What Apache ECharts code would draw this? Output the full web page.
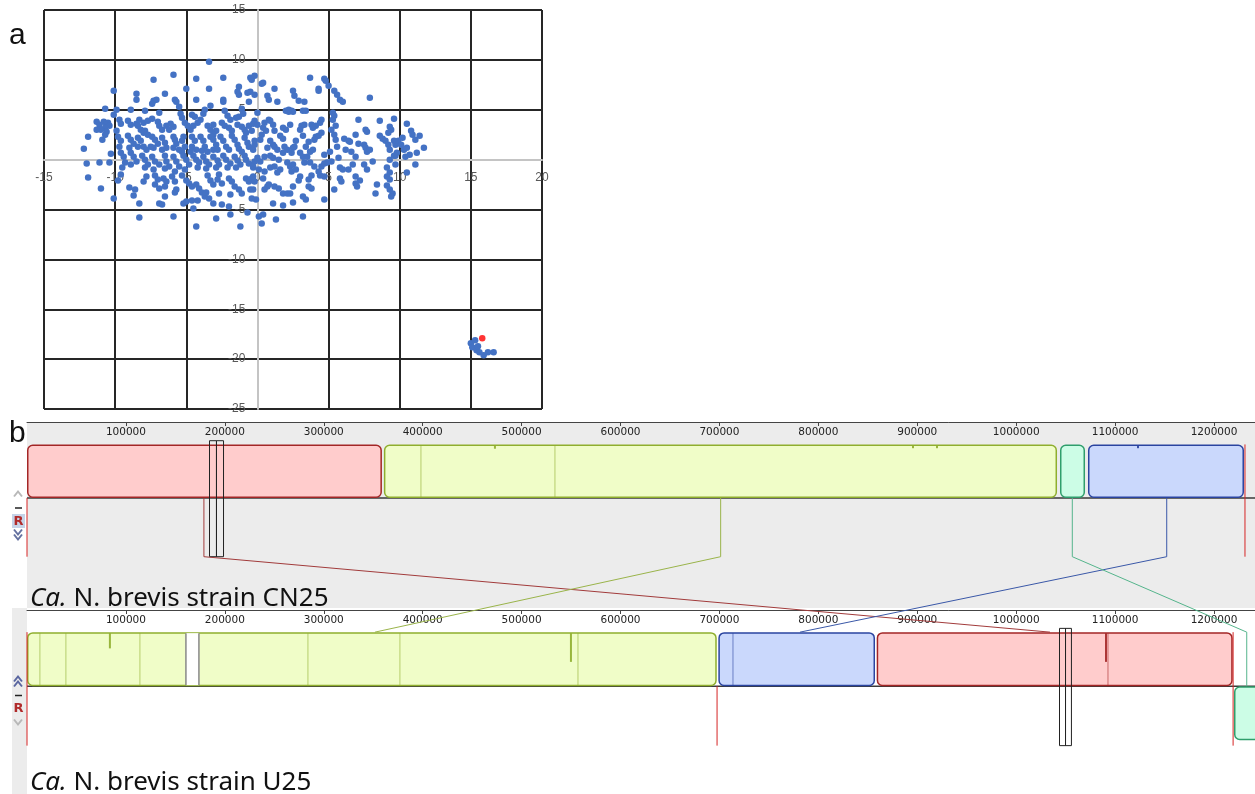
<!DOCTYPE html>
<html>
<head>
<meta charset="utf-8">
<script src="https://cdn.jsdelivr.net/npm/echarts@6/dist/echarts.min.js"></script>
<style>
html, body { margin: 0; padding: 0; background: #fff; }
#main { width: 1255px; height: 794px; }
</style>
</head>
<body>
<div id="main"></div>
<script>
// ---------- panel a : embedding scatter ----------
var tsnePoints = [
[-3.4,9.8],[-5.9,8.5],[-7.3,8.0],[-2.4,8.2],[-4.3,8.1],[-0.5,8.2],[-0.4,8.0],[-1.3,7.3],[-1.4,6.8],[-0.5,6.8],[-0.7,6.7],[-10.1,6.9],[-8.5,6.6],[-8.5,6.0],[-6.5,6.6],[-5.0,7.1],[-3.4,7.1],[-4.3,6.0],[-5.8,6.0],[-5.7,5.8],[-7.3,5.9],[-7.4,5.6],[-7.1,6.0],[-2.4,6.0],[-2.4,5.8],[-3.3,5.4],[-1.3,6.5],[-0.6,5.8],
[-10.7,5.1],[-9.9,5.0],[-10.1,4.5],[-8.9,5.0],[-7.9,4.9],[-6.9,4.7],[-5.5,5.3],[-5.4,4.6],[-5.3,4.2],[-4.6,4.5],[-4.4,4.3],[-3.8,4.6],[-3.7,5.0],[-2.3,4.9],[-2.1,4.4],[-1.3,4.3],[-1.1,5.1],[-1.0,4.6],
[-11.3,3.8],[-11.1,3.5],[-10.8,3.8],[-10.6,3.6],[-10.5,3.7],[-10.4,3.4],[-10.7,3.2],[-11.0,3.0],[-11.3,3.0],[-11.9,2.3],[-10.6,2.8],[-10.7,2.5],[-10.9,2.0],
[-9.7,4.0],[-9.6,3.6],[-9.9,2.9],[-9.1,3.9],[-8.9,3.5],[-8.5,3.6],[-8.4,3.4],[-8.3,4.0],[-8.0,3.7],[-7.7,3.9],[-7.4,4.1],[-8.2,3.0],[-7.9,2.9],[-8.0,2.7],[-7.7,2.5],
[-7.0,3.8],[-6.9,3.4],[-6.7,3.0],[-6.4,3.4],[-6.2,3.0],[-5.9,3.3],[-6.1,3.6],[-5.1,3.7],[-4.9,3.4],[-4.7,3.0],[-4.5,3.4],[-4.2,3.7],[-4.0,4.0],
[-3.5,3.4],[-3.3,3.0],[-3.1,3.5],[-2.9,2.9],[-3.1,2.5],[-2.5,3.7],[-2.3,3.4],[-2.0,3.2],[-1.8,2.9],[-1.4,3.5],[-1.1,3.3],[-0.9,3.0],[-0.6,3.4],[-0.3,3.6],[-1.9,4.0],[-1.5,4.2],
[-9.8,2.3],[-9.6,1.9],[-9.7,1.3],[-9.1,2.4],[-8.9,2.0],[-8.7,1.6],[-9.0,1.2],[-8.4,2.2],[-8.2,1.9],[-8.4,1.3],[-8.0,1.3],[-7.8,1.0],
[-7.4,2.3],[-7.2,2.0],[-7.0,1.6],[-7.3,1.2],[-7.5,1.3],[-6.7,2.2],[-6.5,1.7],[-6.4,1.2],[-6.7,1.0],[-5.9,2.3],[-5.8,2.0],[-5.7,1.6],[-5.9,1.2],[-5.5,1.0],
[-5.2,2.3],[-5.3,1.9],[-5.1,1.3],[-5.3,0.8],[-4.6,2.3],[-4.4,1.9],[-4.6,1.3],[-4.3,1.0],[-4.7,0.8],[-4.0,2.3],[-3.8,1.9],[-3.7,1.3],[-3.9,0.9],[-3.5,0.8],
[-3.3,2.3],[-3.1,2.0],[-2.9,1.5],[-3.1,1.0],[-2.8,1.0],[-2.6,2.3],[-2.4,1.9],[-2.2,1.3],[-2.0,1.0],[-1.8,2.4],[-1.6,2.0],[-1.4,1.5],[-1.3,1.1],[-1.1,0.8],
[-0.9,2.2],[-0.7,1.7],[-0.6,1.3],[-0.3,1.0],[-0.2,1.5],[-0.8,2.7],
[-12.2,1.1],[-12.0,-0.4],[-11.1,-0.3],[-11.9,-1.8],[-10.3,0.6],[-10.4,-0.3],
[-9.6,0.7],[-9.4,0.3],[-9.3,-0.3],[-9.5,-0.8],[-8.9,0.7],[-8.7,0.3],[-8.5,-0.2],[-8.9,-0.5],[-8.1,0.4],[-7.9,0.0],[-7.7,-0.5],[-7.9,-0.8],
[-7.4,0.3],[-7.2,-0.2],[-6.9,-0.5],[-7.3,-1.0],[-6.5,0.4],[-6.4,-0.2],[-6.2,-0.7],[-6.5,-0.9],[-5.9,0.3],[-5.7,-0.2],[-5.5,-0.7],[-5.8,-1.2],
[-5.2,0.4],[-5.0,0.0],[-4.8,-0.5],[-5.1,-1.0],[-4.5,0.4],[-4.3,0.0],[-4.1,-0.3],[-4.2,-0.8],[-3.8,0.3],[-3.6,-0.2],[-3.4,-0.5],[-3.6,-0.9],
[-3.1,0.3],[-2.8,-0.1],[-2.7,-0.5],[-2.9,-0.8],[-2.4,0.4],[-2.2,0.0],[-1.9,-0.4],[-2.1,-0.8],[-1.6,0.3],[-1.4,-0.1],[-1.2,-0.5],[-1.5,-0.8],
[-0.9,0.4],[-0.8,0.0],[-0.6,-0.4],[-0.3,-0.8],[-0.2,-0.2],
[-9.6,-1.5],[-9.8,-2.1],[-9.0,-2.8],[-8.6,-3.0],[-8.7,-3.6],[-10.1,-3.9],[-11.0,-2.9],[-8.0,-2.2],[-7.8,-1.7],
[-7.2,-1.6],[-7.0,-2.0],[-7.2,-2.5],[-6.9,-2.9],[-6.6,-1.9],[-6.4,-2.2],[-6.5,-2.7],[-6.5,-3.7],[-6.0,-1.7],[-5.8,-2.2],[-5.7,-3.0],[-5.8,-3.3],
[-5.3,-1.6],[-5.0,-2.1],[-4.8,-2.4],[-4.6,-2.7],[-4.3,-2.5],[-4.1,-2.9],[-3.9,-3.3],[-3.7,-3.7],[-3.5,-1.6],[-3.3,-2.1],[-3.1,-2.5],
[-2.7,-1.5],[-2.8,-2.0],[-2.5,-2.4],[-2.0,-1.9],[-1.8,-2.2],[-1.6,-2.7],[-1.3,-3.0],[-1.1,-3.4],[-0.8,-1.9],[-0.6,-2.2],[-0.3,-1.7],[-0.5,-3.0],
[-2.7,-3.4],[-1.9,-3.5],[-3.6,-3.3],[-3.4,-3.9],
[-5.2,-4.4],[-5.0,-4.2],[-4.6,-4.1],[-4.2,-4.1],[-4.5,-4.9],[-6.9,-4.4],[-6.7,-4.5],[-8.3,-4.4],[-8.3,-5.8],[-5.9,-5.7],[-4.3,-6.7],[-2.9,-5.9],[-3.1,-4.4],[-2.5,-4.5],[-2.0,-4.7],[-1.9,-5.5],[-1.2,-6.7],[-0.7,-5.3],
[3.7,8.2],[4.7,8.1],[4.8,7.9],[5.0,7.4],[5.4,6.9],[5.6,6.5],[5.8,6.0],[6.0,5.8],[4.3,7.1],[4.3,6.9],[7.9,6.2],[-0.2,8.4],[0.4,7.7],[0.3,7.6],[1.2,7.1],[2.5,6.9],[2.6,6.4],[2.9,5.9],[3.3,5.8],[0.7,6.4],[0.8,6.0],[1.4,5.8],[-0.2,6.5],
[2.0,4.9],[2.2,4.8],[2.4,4.9],[2.5,4.8],[2.2,5.0],[3.2,4.9],[3.4,4.9],[0.0,4.7],[5.3,4.7],[5.4,4.4],[5.3,4.0],[5.2,3.0],[5.5,3.4],[5.4,2.5],[4.5,4.0],[4.4,3.7],[4.1,3.4],
[7.1,4.0],[8.6,3.9],[9.6,4.1],[10.5,3.6],[7.6,3.0],[7.7,2.8],[9.3,3.3],[9.4,3.0],[9.2,2.7],[10.8,2.9],[10.9,2.5],[11.4,2.4],[11.1,2.0],[11.7,1.2],[11.2,0.7],[11.1,-0.5],[10.5,-1.3],
[8.6,2.4],[8.8,2.1],[9.0,1.9],[9.2,1.5],[9.3,1.0],[9.6,1.9],[9.7,1.5],[9.9,1.9],[10.2,2.2],[10.1,1.5],[10.3,1.0],[10.5,1.2],[10.7,0.5],[10.4,0.3],
[9.8,0.7],[9.7,0.4],[9.3,0.0],[9.1,-0.8],[9.3,-1.3],[9.1,-1.7],[9.3,-2.0],[9.1,-2.6],[9.3,-3.0],[9.5,-3.4],[9.4,-3.7],[8.4,-2.5],[8.3,-3.4],[9.6,0.4],[9.7,-0.5],
[7.5,1.5],[7.6,1.2],[7.7,0.8],[7.9,1.0],[6.9,2.5],[7.1,1.6],[6.1,2.1],[6.4,1.9],[6.5,1.8],[6.2,1.0],[6.6,0.8],[5.5,2.0],[5.6,1.3],
[6.9,0.3],[6.7,-0.5],[6.4,-1.0],[6.9,-1.7],[7.2,-2.1],[6.9,-2.4],[7.0,-2.7],[7.5,-0.5],[8.1,-0.2],[7.7,-1.0],
[5.7,0.2],[5.8,-0.8],[6.0,-1.0],[5.8,-1.9],[5.9,-2.2],[5.4,-3.0],[5.1,0.8],[4.7,0.5],[5.2,-0.2],[4.9,-0.3],[4.7,-1.7],[4.4,-1.6],[4.7,-4.0],
[4.1,2.3],[4.3,2.4],[4.5,2.7],[4.0,2.0],[3.6,1.8],[3.4,1.3],[3.9,1.0],[3.7,0.8],[3.1,3.4],[3.0,3.0],[3.2,2.4],[2.7,1.9],[2.6,1.3],[2.5,1.2],[3.3,3.5],[3.8,3.5],[3.9,3.2],
[1.8,3.2],[2.0,3.0],[2.3,3.5],[1.6,2.4],[1.8,2.1],[1.2,2.9],[0.8,4.0],[0.9,3.9],[1.1,3.5],[0.5,3.7],[0.4,3.2],[0.6,2.9],[-0.2,3.9],[0.0,3.5],[-0.4,2.9],[0.3,2.5],[0.2,2.0],[-0.2,1.9],
[0.9,1.9],[1.1,1.5],[1.2,1.3],[0.7,1.2],[1.4,1.0],[1.9,1.3],[2.1,1.0],[1.8,0.7],[2.4,0.7],[3.0,0.7],[3.2,0.3],[3.5,0.3],[3.3,-0.3],[3.7,-0.3],[4.0,-0.7],[4.5,-0.7],[4.7,-0.4],[4.3,-1.2],
[0.0,0.2],[0.2,-0.2],[0.5,0.3],[0.9,0.4],[1.1,0.2],[1.5,0.0],[-0.3,-0.7],[0.1,-1.0],[0.5,-1.2],[0.9,-0.8],[1.2,-0.7],[1.6,-1.0],[1.4,-1.3],[2.1,-0.3],[2.3,-0.7],[2.5,-0.5],[2.4,-1.2],[2.7,-1.0],
[3.0,-1.7],[2.9,-2.1],[3.6,-2.0],[3.8,-1.6],[3.6,-2.7],[3.8,-2.9],[-0.4,-1.9],[-0.2,-2.2],[0.4,-1.9],[0.5,-3.0],[0.7,-2.7],[0.8,-2.5],[1.2,-2.7],[1.5,-2.9],[1.8,-3.4],[2.1,-3.4],[2.3,-3.4],[2.5,-2.7],
[-0.3,-3.0],[-0.4,-3.9],[-0.1,-4.0],[1.1,-4.4],[1.8,-4.6],[2.5,-4.3],[3.2,-3.7],[3.4,-4.0],[0.1,-5.7],[0.4,-5.5],[0.3,-6.4],[1.3,-6.0],[3.2,-5.7],
[15.0,-18.4],[15.3,-18.1],[15.1,-18.8],[15.4,-19.1],[15.5,-18.7],[15.6,-19.3],[15.9,-19.6],[16.2,-19.3],[16.6,-19.3]
];
var queryPoint = [[15.8, -17.9]];
var tsneTicksX = [-15, -10, -5, 0, 5, 10, 15, 20];
var tsneTicksY = [-25, -20, -15, -10, -5, 0, 5, 10, 15];

// ---------- panel b : genome alignment ----------
var genomeTickStep = 100000;
var genomeAxisMax = 1241440;
// [start, end, strand, lcb]
var cn25Blocks = [[0, 358800, 1, 0], [360800, 1041300, 1, 1], [1044300, 1069600, 1, 3], [1072600, 1230300, 1, 2]];
var u25Blocks = [[0, 697300, 1, 1], [698900, 857300, 1, 2], [859000, 1218900, 1, 0], [1220200, 1250000, -1, 3]];
// [position, depth (fraction of block height), lcb]
var cn25Profile = [[398250, 1, 1], [533720, 1, 1], [473060, 0.08, 1], [895670, 0.07, 1], [919940, 0.07, 1], [1123140, 0.07, 2]];
var u25Profile = [[13040, 1, 1], [39330, 1, 1], [83810, 0.3, 1], [114150, 1, 1], [284000, 1, 1], [377000, 1, 1],
  [549900, 0.55, 1], [557000, 1, 1], [713700, 1, 2], [1090800, 0.55, 0], [1092800, 1, 0]];
var u25Gaps = [[160660, 173800]];
// [position in CN25, position in U25, lcb, strand in U25]
var lcbLinks = [[178850, 1034200, 0, 1], [701250, 351740, 1, 1], [1152200, 781430, 2, 1], [1056740, 1233090, 3, -1]];
// [position, 0 = below strand line, 1 = whole track]
var cn25Ends = [[0, 0], [1231300, 1]];
var u25Ends = [[0, 1], [697600, 0], [1219300, 1]];
var cn25Cursor = [[184000, 191000], [191000, 198100]];
var u25Cursor = [[1043300, 1049400], [1049400, 1055400]];

var LCB_STYLE = [
  { fill: '#ffcccc', stroke: '#a32626', link: '#a23b3b' },
  { fill: '#f0fdc8', stroke: '#8fae2e', link: '#9ab44a' },
  { fill: '#cad8fc', stroke: '#2a44a0', link: '#3a58a8' },
  { fill: '#ccfde6', stroke: '#2f9e6c', link: '#55b58c' }
];
var LINK_DROP = -1.1;

var myChart = echarts.init(document.getElementById('main'));

function renderBlock(params, api) {
  var s = api.coord([api.value(0), 0]);
  var e = api.coord([api.value(1), 0]);
  var strand = api.value(2);
  var yTop = api.coord([0, strand > 0 ? 1 : 0])[1];
  var yBot = api.coord([0, strand > 0 ? 0 : -1])[1];
  var st = LCB_STYLE[api.value(3)];
  return {
    type: 'rect',
    shape: { x: s[0] + 0.75, y: yTop + 0.75, width: e[0] - s[0] - 1.5, height: yBot - yTop - 1.5, r: 5 },
    style: { fill: st.fill, stroke: st.stroke, lineWidth: 1.5 }
  };
}

function renderStrandLine(params, api) {
  var y = api.coord([0, 0])[1];
  var cs = params.coordSys;
  return {
    type: 'line',
    shape: { x1: cs.x, y1: y, x2: cs.x + cs.width, y2: y },
    style: { stroke: '#3a3a3a', lineWidth: 1.5 }
  };
}

function renderProfile(params, api) {
  var x = api.coord([api.value(0), 0])[0];
  var depth = api.value(1);
  var top = api.coord([0, 1])[1] + 1;
  var bot = api.coord([0, 1 - depth])[1];
  var st = LCB_STYLE[api.value(2)];
  return {
    type: 'line',
    shape: { x1: x, y1: top, x2: x, y2: bot },
    style: { stroke: st.stroke, lineWidth: depth < 1 ? 2 : 1, opacity: depth < 1 ? 0.9 : 0.6 }
  };
}

function renderGap(params, api) {
  var s = api.coord([api.value(0), 1]);
  var e = api.coord([api.value(1), 0]);
  return {
    type: 'group',
    children: [
      { type: 'rect', shape: { x: s[0], y: s[1] + 1, width: e[0] - s[0], height: e[1] - s[1] - 2 }, style: { fill: '#ffffff' } },
      { type: 'line', shape: { x1: s[0], y1: s[1] + 1, x2: s[0], y2: e[1] - 1 }, style: { stroke: '#888', lineWidth: 1.5 } },
      { type: 'line', shape: { x1: e[0], y1: s[1] + 1, x2: e[0], y2: e[1] - 1 }, style: { stroke: '#888', lineWidth: 1.5 } }
    ]
  };
}

function renderEnd(params, api) {
  var p = api.coord([api.value(0), api.value(1) ? 1 : 0]);
  var q = api.coord([api.value(0), LINK_DROP]);
  return {
    type: 'line',
    shape: { x1: p[0], y1: p[1], x2: q[0], y2: q[1] },
    style: { stroke: '#d62424', lineWidth: 1 }
  };
}

function renderCursor(params, api) {
  var a = api.coord([api.value(0), 1.07]);
  var b = api.coord([api.value(1), LINK_DROP]);
  return {
    type: 'rect',
    shape: { x: Math.round(a[0]) + 0.5, y: a[1], width: b[0] - a[0], height: b[1] - a[1] },
    style: { fill: null, stroke: '#222', lineWidth: 1 }
  };
}

function renderLink(params, api) {
  var from = api.value(0), to = api.value(1);
  var st = LCB_STYLE[api.value(2)];
  var p0 = api.coord([from, 0]);
  var p1 = api.coord([from, LINK_DROP]);
  var p2 = myChart.convertToPixel({ xAxisIndex: 2, yAxisIndex: 2 }, [to, 1]);
  var pts = [p0, p1, p2];
  if (api.value(3) < 0) {
    pts.push(myChart.convertToPixel({ xAxisIndex: 2, yAxisIndex: 2 }, [to, 0]));
  }
  return {
    type: 'polyline',
    shape: { points: pts },
    style: { stroke: st.link, lineWidth: 1, fill: null }
  };
}

function genomeAxis(gridIndex) {
  return {
    gridIndex: gridIndex, type: 'value', position: 'top',
    min: 0, max: genomeAxisMax, interval: genomeTickStep,
    axisLine: { onZero: false, lineStyle: { color: '#444', width: 1 } },
    axisTick: { inside: true, length: 4, lineStyle: { color: '#444' } },
    axisLabel: { inside: true, margin: 5, fontSize: 10.5, color: '#222', fontFamily: 'DejaVu Sans',
      showMinLabel: false, showMaxLabel: false, formatter: function (v) { return String(v); } },
    splitLine: { show: false }
  };
}

function trackY(gridIndex, lo, hi) {
  return { gridIndex: gridIndex, type: 'value', min: lo, max: hi, show: false };
}

var gridLine = '#262626';
var zeroLine = '#c4c4c4';
// panel a plot box, used to put both axes through the origin
var tsneBox = { left: 44, top: 10, width: 498, height: 399 };
var zeroOffsetX = -tsneBox.height * (0 - tsneTicksY[0]) / (tsneTicksY[tsneTicksY.length - 1] - tsneTicksY[0]);
var zeroOffsetY = -tsneBox.width * (0 - tsneTicksX[0]) / (tsneTicksX[tsneTicksX.length - 1] - tsneTicksX[0]);

// dir: -1 points up, 1 points down
function chevron(x, y, dir, color) {
  return { type: 'polyline', shape: { points: [[x - 4, y - 2.5 * dir], [x, y + 2.5 * dir], [x + 4, y - 2.5 * dir]] },
    style: { stroke: color, lineWidth: 2, fill: null } };
}

function trackTitle(y, name) {
  return { type: 'text', x: 30, y: y,
    style: { text: '{i|Ca.} N. brevis strain ' + name, fill: '#111', font: '26px "Noto Sans"', verticalAlign: 'middle',
      rich: { i: { fontStyle: 'italic', fontSize: 26, fontFamily: 'Noto Sans', fill: '#111' } } } };
}

var option = {
  animation: false,
  backgroundColor: '#ffffff',
  grid: [
    { left: tsneBox.left, top: tsneBox.top, width: tsneBox.width, height: tsneBox.height, show: false },
    { left: 27, top: 422, right: 0, height: 186, show: true, backgroundColor: '#ececec', borderWidth: 0 },
    { left: 27, top: 610, right: 0, height: 184, show: false }
  ],
  xAxis: [
    {
      gridIndex: 0, type: 'value', position: 'bottom', offset: zeroOffsetX,
      min: tsneTicksX[0], max: tsneTicksX[tsneTicksX.length - 1], interval: 5,
      axisLine: { onZero: false, lineStyle: { color: zeroLine, width: 2 } },
      axisTick: { show: false },
      axisLabel: { color: '#595959', fontSize: 12, fontFamily: 'Liberation Sans', margin: 12 },
      splitLine: { lineStyle: { width: 2, color: tsneTicksX.map(function (v) { return v === 0 ? zeroLine : gridLine; }) } }
    },
    genomeAxis(1),
    genomeAxis(2)
  ],
  yAxis: [
    {
      gridIndex: 0, type: 'value', position: 'left', offset: zeroOffsetY,
      min: tsneTicksY[0], max: tsneTicksY[tsneTicksY.length - 1], interval: 5,
      axisLine: { onZero: false, lineStyle: { color: zeroLine, width: 2 } },
      axisTick: { show: false },
      axisLabel: { color: '#595959', fontSize: 12, fontFamily: 'Liberation Sans', margin: 12 },
      splitLine: { lineStyle: { width: 2, color: tsneTicksY.map(function (v) { return v === 0 ? zeroLine : gridLine; }) } }
    },
    trackY(1, -2.06, 1.42),
    trackY(2, -1.995, 1.41)
  ],
  series: [
    { type: 'scatter', xAxisIndex: 0, yAxisIndex: 0, data: tsnePoints, symbolSize: 6.5,
      itemStyle: { color: '#4472c4', opacity: 1 } },
    { type: 'scatter', xAxisIndex: 0, yAxisIndex: 0, data: queryPoint, symbolSize: 6.5,
      itemStyle: { color: '#ff0000' } },

    { type: 'custom', xAxisIndex: 1, yAxisIndex: 1, data: [[0]], renderItem: renderStrandLine, silent: true },
    { type: 'custom', xAxisIndex: 1, yAxisIndex: 1, data: cn25Blocks, renderItem: renderBlock, silent: true },
    { type: 'custom', xAxisIndex: 1, yAxisIndex: 1, data: cn25Profile, renderItem: renderProfile, silent: true },
    { type: 'custom', xAxisIndex: 1, yAxisIndex: 1, data: cn25Ends, renderItem: renderEnd, silent: true },
    { type: 'custom', xAxisIndex: 1, yAxisIndex: 1, data: lcbLinks, renderItem: renderLink, silent: true, clip: false, z: 5 },
    { type: 'custom', xAxisIndex: 1, yAxisIndex: 1, data: cn25Cursor, renderItem: renderCursor, silent: true },

    { type: 'custom', xAxisIndex: 2, yAxisIndex: 2, data: [[0]], renderItem: renderStrandLine, silent: true },
    { type: 'custom', xAxisIndex: 2, yAxisIndex: 2, data: u25Blocks, renderItem: renderBlock, silent: true },
    { type: 'custom', xAxisIndex: 2, yAxisIndex: 2, data: u25Gaps, renderItem: renderGap, silent: true },
    { type: 'custom', xAxisIndex: 2, yAxisIndex: 2, data: u25Profile, renderItem: renderProfile, silent: true },
    { type: 'custom', xAxisIndex: 2, yAxisIndex: 2, data: u25Ends, renderItem: renderEnd, silent: true },
    { type: 'custom', xAxisIndex: 2, yAxisIndex: 2, data: u25Cursor, renderItem: renderCursor, silent: true }
  ],
  graphic: [
    { type: 'rect', shape: { x: 12, y: 608, width: 15, height: 186 }, style: { fill: '#ececec' }, z: -1 },
    { type: 'text', x: 9, y: 36, style: { text: 'a', fill: '#111', font: '30px "Liberation Sans"', verticalAlign: 'middle' } },
    { type: 'text', x: 9, y: 434, style: { text: 'b', fill: '#111', font: '30px "Liberation Sans"', verticalAlign: 'middle' } },
    trackTitle(599, 'CN25'),
    trackTitle(783, 'U25'),
    // track controls (CN25)
    chevron(18, 494, -1, '#b8b8b8'),
    { type: 'line', shape: { x1: 15, y1: 508, x2: 22, y2: 508 }, style: { stroke: '#222', lineWidth: 1.5 } },
    { type: 'rect', shape: { x: 12, y: 514, width: 13, height: 14 }, style: { fill: '#c6d3e8' } },
    { type: 'text', x: 18.5, y: 521.5, style: { text: 'R', fill: '#b02a2a', font: 'bold 13px "DejaVu Sans"', align: 'center', verticalAlign: 'middle' } },
    chevron(18, 532, 1, '#6471a0'),
    chevron(18, 537, 1, '#6471a0'),
    // track controls (U25)
    chevron(18, 679, -1, '#5a66a0'),
    chevron(18, 684, -1, '#5a66a0'),
    { type: 'line', shape: { x1: 15, y1: 695.5, x2: 22, y2: 695.5 }, style: { stroke: '#222', lineWidth: 1.5 } },
    { type: 'text', x: 18.5, y: 709, style: { text: 'R', fill: '#b02a2a', font: 'bold 13px "DejaVu Sans"', align: 'center', verticalAlign: 'middle' } },
    chevron(18, 722, 1, '#b8b8b8')
  ]
};

myChart.setOption(option);
</script>
</body>
</html>
